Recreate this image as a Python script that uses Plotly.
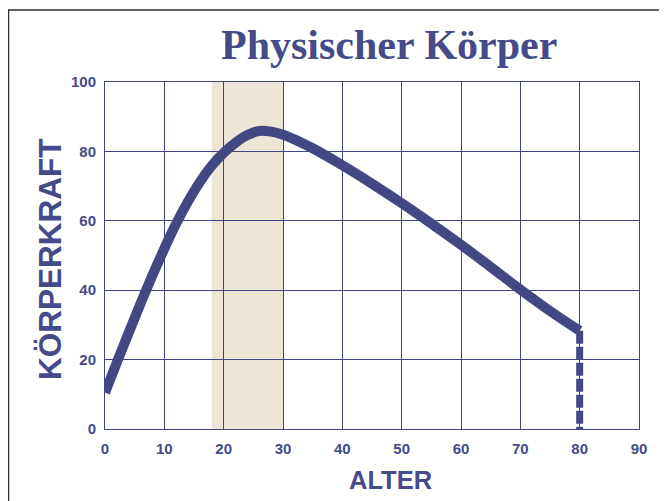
import plotly.graph_objects as go

# Data
age = [0, 2, 4, 6, 8, 10, 12, 14, 16, 18, 20, 22, 24, 26, 28, 30, 32, 35,
       40, 45, 50, 55, 60, 65, 70, 75, 80]
strength = [10.5, 19.2, 27.8, 36.2, 44.3, 52.0, 59.2, 65.6, 71.2, 75.9, 79.6,
            82.5, 84.7, 85.9, 85.7, 84.8, 83.4, 80.9, 76.0, 70.7, 65.1, 59.2,
            53.1, 46.7, 40.2, 34.0, 28.3]
drop_x = [80, 80]
drop_y = [28.3, 0]
band = [18, 30]
x_ticks = [0, 10, 20, 30, 40, 50, 60, 70, 80, 90]
y_ticks = [0, 20, 40, 60, 80, 100]

NAVY = "#444a8a"
LINE = "#434883"
GRID = "#3f4587"

fig = go.Figure()
fig.add_trace(go.Scatter(x=age, y=strength, mode="lines",
                         line=dict(color=LINE, width=10, shape="spline", smoothing=1.0),
                         hoverinfo="skip", showlegend=False))
fig.add_trace(go.Scatter(x=drop_x, y=drop_y, mode="lines",
                         line=dict(color=LINE, width=7, dash="13px,3px"),
                         hoverinfo="skip", showlegend=False))

fig.add_vrect(x0=band[0], x1=band[1], fillcolor="#ede5d6", line_width=0, layer="below")

axis_font = dict(family="Liberation Sans, Arial, sans-serif", size=15, color=NAVY, weight="bold")

fig.update_xaxes(range=[0, 90], tickvals=x_ticks, ticktext=[str(v) for v in x_ticks],
                 showgrid=True, gridcolor=GRID, gridwidth=1,
                 showline=True, linecolor=GRID, linewidth=1, mirror=True,
                 ticks="", zeroline=False, tickfont=axis_font, ticklabelstandoff=6)
fig.update_yaxes(range=[0, 100], tickvals=y_ticks, ticktext=[str(v) for v in y_ticks],
                 showgrid=True, gridcolor=GRID, gridwidth=1,
                 showline=True, linecolor=GRID, linewidth=1, mirror=True,
                 ticks="", zeroline=False, tickfont=axis_font, ticklabelstandoff=5)

fig.add_annotation(text="Physischer Körper", xref="paper", yref="paper",
                   x=0.532, y=1.107, xanchor="center", yanchor="middle", showarrow=False,
                   font=dict(family="Liberation Serif, Times New Roman, serif", size=42,
                             color=NAVY, weight="bold"))
fig.add_annotation(text="KÖRPERKRAFT", xref="paper", yref="paper",
                   x=-0.103, y=0.49, xanchor="center", yanchor="middle", showarrow=False,
                   textangle=-90,
                   font=dict(family="Liberation Sans, Arial, sans-serif", size=31.5,
                             color=NAVY, weight="bold"))
fig.add_annotation(text="ALTER", xref="paper", yref="paper",
                   x=0.534, y=-0.147, xanchor="center", yanchor="middle", showarrow=False,
                   font=dict(family="Liberation Sans, Arial, sans-serif", size=25.5,
                             color=NAVY, weight="bold"))

# outer frame (left and top edges visible)
fig.add_shape(type="rect", xref="paper", yref="paper",
              xsizemode="pixel", xanchor=0, x0=-96.5, x1=700,
              ysizemode="pixel", yanchor=1, y0=-600, y1=72,
              line=dict(color="#2e2e2e", width=1.5), fillcolor="rgba(0,0,0,0)", layer="above")
fig.add_shape(type="line", xref="paper", yref="paper",
              xsizemode="pixel", xanchor=0, x0=-200, x1=700,
              ysizemode="pixel", yanchor=1, y0=81.5, y1=81.5,
              line=dict(color="#c8c8c8", width=1))

# the page body adds an 8px offset, so the figure is sized to fit the remaining window
fig.update_layout(width=659, height=493, autosize=False,
                  margin=dict(l=97, r=28, t=74, b=72),
                  paper_bgcolor="white", plot_bgcolor="white",
                  showlegend=False)

fig.write_html("out.html")
